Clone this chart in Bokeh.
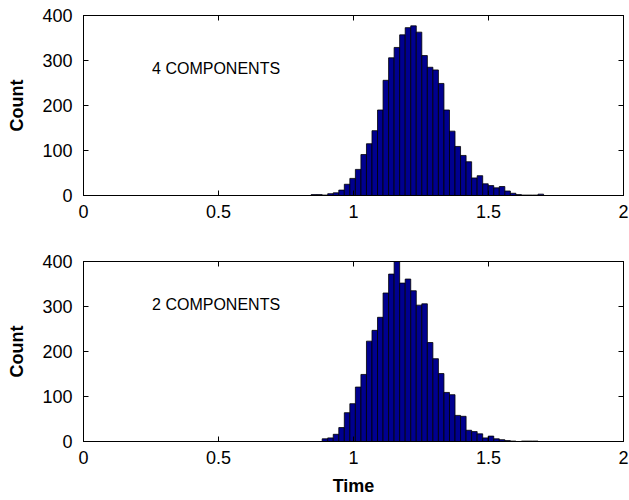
import numpy as np
from bokeh.plotting import figure
from bokeh.layouts import column
from bokeh.models import LinearAxis, FixedTicker, Label
from bokeh.embed import file_html
from bokeh.resources import INLINE

# ---- data ----
bin_width = 0.0205
top_start = 0.843
top_counts = [2, 2, 1, 4, 6, 12, 25, 38, 58, 91, 115, 144, 190, 256, 306, 329,
              357, 373, 377, 363, 311, 285, 279, 249, 190, 143, 109, 89, 75,
              39, 44, 26, 22, 17, 20, 10, 5, 2, 1, 1, 1, 3]
bot_start = 0.884
bot_counts = [6, 8, 16, 31, 64, 84, 121, 149, 223, 247, 276, 330, 372, 400,
              352, 361, 335, 303, 306, 220, 184, 151, 109, 104, 58, 56, 25, 22,
              17, 8, 12, 6, 4, 2, 1, 0, 1, 1, 1]
x_ticks = [0, 0.5, 1, 1.5, 2]
y_ticks = [0, 100, 200, 300, 400]
top_text = "4 COMPONENTS"
bot_text = "2 COMPONENTS"
top_text_pos = (0.254, 282)
bot_text_pos = (0.254, 305)

FONT = "Liberation Sans"
BAR = "#00008F"
TICK_FS = "18px"
LABEL_FS = "18px"


def make_panel(start, counts, label_text, label_pos, height, border_top,
               border_bottom, xlabel=None):
    p = figure(width=629, height=height, output_backend="svg",
               toolbar_location=None, x_range=(0, 2), y_range=(0, 400),
               min_border_left=83, min_border_right=6,
               min_border_top=border_top, min_border_bottom=border_bottom,
               x_axis_location=None, y_axis_location=None)
    counts = np.array(counts, dtype=float)
    edges = start + bin_width * np.arange(len(counts) + 1)
    p.quad(left=edges[:-1], right=edges[1:], bottom=0, top=counts,
           fill_color=BAR, line_color="black", line_width=0.8)
    p.grid.visible = False
    p.outline_line_color = "black"
    p.outline_line_width = 1

    def style(ax, ticks, show_labels=True):
        ax.ticker = FixedTicker(ticks=ticks)
        ax.major_tick_in = 5
        ax.major_tick_out = 0
        ax.minor_tick_line_color = None
        ax.axis_line_color = "black"
        ax.major_tick_line_color = "black"
        ax.major_label_text_font = FONT
        if show_labels:
            ax.major_label_text_font_size = TICK_FS
            ax.major_label_text_color = "black"
        else:
            ax.major_label_text_font_size = "1px"
            ax.major_label_text_color = None
            ax.major_label_standoff = 0

    xb = LinearAxis()
    style(xb, x_ticks)
    xb.major_label_standoff = 9
    if xlabel:
        xb.axis_label = xlabel
        xb.axis_label_text_font = FONT
        xb.axis_label_text_font_style = "bold"
        xb.axis_label_text_font_size = LABEL_FS
        xb.axis_label_text_color = "black"
        xb.axis_label_standoff = 9
    p.add_layout(xb, "below")

    yl = LinearAxis()
    style(yl, y_ticks)
    yl.major_label_standoff = 11
    yl.axis_label = "Count"
    yl.axis_label_text_font = FONT
    yl.axis_label_text_font_style = "bold"
    yl.axis_label_text_font_size = LABEL_FS
    yl.axis_label_text_color = "black"
    yl.axis_label_standoff = 12
    p.add_layout(yl, "left")

    xt = LinearAxis()
    style(xt, x_ticks, show_labels=False)
    p.add_layout(xt, "above")
    yr = LinearAxis()
    style(yr, y_ticks, show_labels=False)
    p.add_layout(yr, "right")

    p.add_layout(Label(x=label_pos[0], y=label_pos[1], text=label_text,
                       text_font=FONT, text_font_size="16px",
                       text_baseline="middle", text_color="black"))
    return p


p1 = make_panel(top_start, top_counts, top_text, top_text_pos,
                height=246, border_top=15, border_bottom=51)
p2 = make_panel(bot_start, bot_counts, bot_text, bot_text_pos,
                height=254, border_top=15, border_bottom=59, xlabel="Time")

layout = column(p1, p2, spacing=0)
open("out.html", "w").write(file_html(layout, INLINE))
